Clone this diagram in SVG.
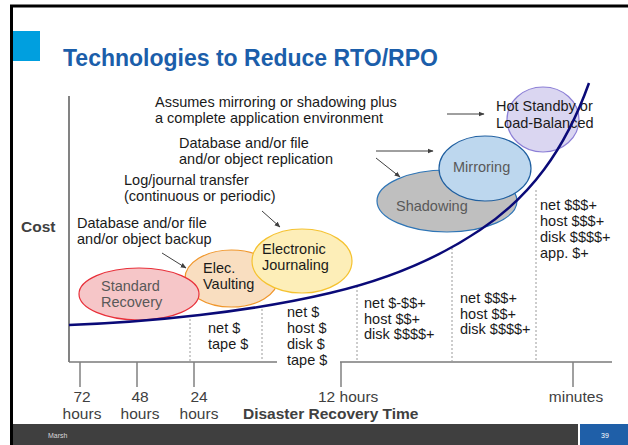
<svg xmlns="http://www.w3.org/2000/svg" width="628" height="445" viewBox="0 0 628 445">
<defs>
<style>
text{font-family:"Liberation Sans",Arial,sans-serif}
.t{font-size:14.5px;fill:#1a1a1a}
.g{font-size:14.5px;fill:#595959}
.ax{font-size:15.5px;fill:#404040}
.arr{stroke:#404040;stroke-width:1;fill:none;marker-end:url(#ah)}
.dot{stroke:#9a9a9a;stroke-width:1;stroke-dasharray:2,2;fill:none}
.tick{stroke:#808080;stroke-width:1.5}
</style>
<marker id="ah" viewBox="0 0 10 10" refX="9" refY="5" markerWidth="6" markerHeight="6" orient="auto" markerUnits="userSpaceOnUse">
<path d="M0,1 L10,5 L0,9 z" fill="#404040"/>
</marker>
</defs>
<rect x="0" y="0" width="628" height="445" fill="#ffffff"/>
<rect x="11.5" y="6" width="640" height="460" fill="#ffffff" stroke="#000" stroke-width="3"/>
<g id="header">
<rect x="13" y="31" width="27" height="30" fill="#009FDF"/>
<text x="63" y="66" font-size="23" font-weight="bold" fill="#1B5EAA">Technologies to Reduce RTO/RPO</text>
</g>
<g id="footer">
<rect x="13" y="424" width="565" height="21" fill="#3F3F3F"/>
<rect x="580" y="424" width="48" height="21" fill="#1F5FA8"/>
<text x="48" y="438" font-size="7" fill="#d9d9d9">Marsh</text>
<text x="605" y="438" font-size="7" fill="#ffffff" text-anchor="middle">39</text>
</g>
<g id="axes">
<line x1="69" y1="96" x2="69" y2="362" stroke="#404040" stroke-width="1.3"/>
<line x1="69" y1="362" x2="277" y2="362" stroke="#7a7a7a" stroke-width="1.5"/>
<line x1="340" y1="362" x2="612" y2="362" stroke="#7a7a7a" stroke-width="1.5"/>
<line class="tick" x1="80" y1="362" x2="80" y2="387"/>
<line class="tick" x1="137" y1="362" x2="137" y2="387"/>
<line class="tick" x1="194" y1="362" x2="194" y2="387"/>
<line class="tick" x1="341" y1="362" x2="341" y2="387"/>
<line class="tick" x1="573" y1="362" x2="573" y2="387"/>
<text class="ax" x="21" y="232" font-weight="bold" font-size="17">Cost</text>
<text class="ax" x="82" y="401.5" text-anchor="middle">72</text>
<text class="ax" x="82" y="418.5" text-anchor="middle">hours</text>
<text class="ax" x="140" y="401.5" text-anchor="middle">48</text>
<text class="ax" x="140" y="418.5" text-anchor="middle">hours</text>
<text class="ax" x="199" y="401.5" text-anchor="middle">24</text>
<text class="ax" x="199" y="418.5" text-anchor="middle">hours</text>
<text class="ax" x="318" y="401.5">12 hours</text>
<text class="ax" x="576" y="401.5" text-anchor="middle">minutes</text>
<text class="ax" x="243" y="418.5" font-weight="bold">Disaster Recovery Time</text>
</g>
<g id="separators">
<line class="dot" x1="190" y1="319" x2="190" y2="361"/>
<line class="dot" x1="262" y1="309" x2="262" y2="361"/>
<line class="dot" x1="357" y1="286" x2="357" y2="361"/>
<line class="dot" x1="452" y1="248" x2="452" y2="361"/>
<line class="dot" x1="536" y1="190" x2="536" y2="361"/>
</g>
<g id="standard-recovery-vaulting">
<g id="elec-vaulting">
<ellipse cx="231.5" cy="278.5" rx="46.5" ry="28.5" fill="#F9DEC0" stroke="#F0962A" stroke-width="1.2"/>
<text class="t" x="203" y="273">Elec.</text>
<text class="t" x="203" y="289">Vaulting</text>
</g>
<g id="standard-recovery">
<ellipse cx="139" cy="294" rx="60" ry="26" fill="#F6C6C8" stroke="#E8303A" stroke-width="1.2"/>
<text class="g" x="101" y="291">Standard</text>
<text class="g" x="101" y="307">Recovery</text>
</g>
</g>
<g id="electronic-journaling">
<ellipse cx="302" cy="261" rx="50" ry="32" fill="#FDEEB8" stroke="#F5C230" stroke-width="1.2"/>
<text class="t" x="262" y="254">Electronic</text>
<text class="t" x="262" y="270">Journaling</text>
</g>
<g id="shadowing">
<ellipse cx="447" cy="201" rx="70" ry="31" fill="#BFBFBF" stroke="#2E75B6" stroke-width="1.2"/>
<text class="g" x="396" y="211">Shadowing</text>
</g>
<g id="mirroring">
<ellipse cx="485" cy="168.5" rx="46" ry="32.5" fill="#BDD7EE" stroke="#1F5FA0" stroke-width="1.2"/>
<text class="g" x="453" y="172">Mirroring</text>
</g>
<g id="hot-standby">
<ellipse cx="543" cy="119.5" rx="36" ry="32.5" fill="#DAD6F1" stroke="#8C7FD6" stroke-width="1.2"/>
<text class="t" x="496" y="111">Hot Standby or</text>
<text class="t" x="496" y="128">Load-Balanced</text>
</g>
<g id="notes">
<text class="t" x="155" y="107">Assumes mirroring or shadowing plus</text>
<text class="t" x="155" y="123">a complete application environment</text>
<text class="t" x="179" y="148">Database and/or file</text>
<text class="t" x="179" y="164">and/or object replication</text>
<text class="t" x="124" y="185">Log/journal transfer</text>
<text class="t" x="124" y="201">(continuous or periodic)</text>
<text class="t" x="77" y="228">Database and/or file</text>
<text class="t" x="77" y="244">and/or object backup</text>
</g>
<g id="costs">
<text class="t" x="208" y="333">net $</text>
<text class="t" x="208" y="349">tape $</text>
<text class="t" x="287" y="317">net $</text>
<text class="t" x="287" y="333">host $</text>
<text class="t" x="287" y="349">disk $</text>
<text class="t" x="287" y="365">tape $</text>
<text class="t" x="364" y="308">net $-$$+</text>
<text class="t" x="364" y="323.5">host $$+</text>
<text class="t" x="364" y="339">disk $$$$+</text>
<text class="t" x="460" y="303">net $$$+</text>
<text class="t" x="460" y="318.5">host $$+</text>
<text class="t" x="460" y="334">disk $$$$+</text>
<text class="t" x="540" y="210">net $$$+</text>
<text class="t" x="540" y="226">host $$$+</text>
<text class="t" x="540" y="242">disk $$$$+</text>
<text class="t" x="540" y="258">app. $+</text>
</g>
<g id="connectors">
<path d="M69,325 C150,322 250,312 330,293 C390,279 440,257 480,230 C530,197 565,150 589,83" fill="none" stroke="#0A0A78" stroke-width="2.5"/>
<line class="arr" x1="447" y1="114" x2="484" y2="114"/>
<line class="arr" x1="376" y1="151" x2="433" y2="151"/>
<line class="arr" x1="376" y1="158" x2="400" y2="177"/>
<line class="arr" x1="262" y1="211" x2="280" y2="227"/>
<line class="arr" x1="162" y1="253" x2="186" y2="268"/>
</g>
</svg>
